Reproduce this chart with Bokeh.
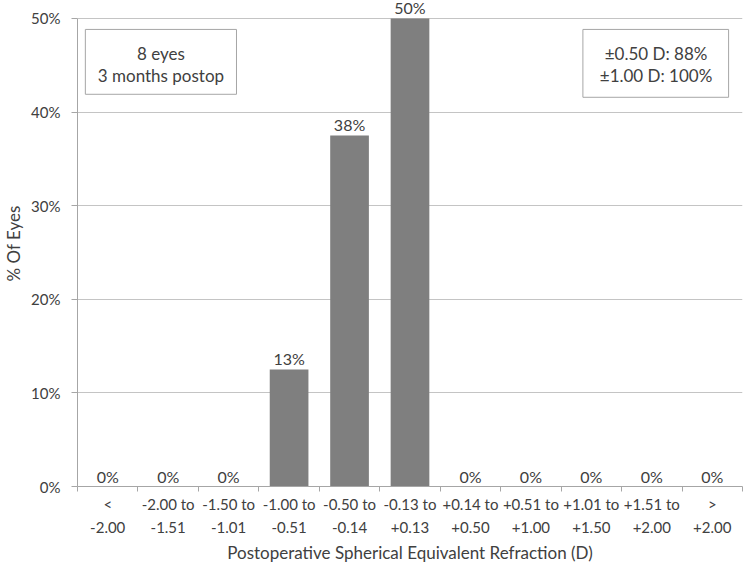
from bokeh.plotting import figure
from bokeh.models import (Range1d, LinearAxis, FixedTicker,
                          ColumnDataSource, Label, PrintfTickFormatter)
from bokeh.embed import file_html
from bokeh.resources import INLINE

# ---- data ----
categories = ["<\n-2.00", "-2.00 to\n-1.51", "-1.50 to\n-1.01", "-1.00 to\n-0.51",
              "-0.50 to\n-0.14", "-0.13 to\n+0.13", "+0.14 to\n+0.50", "+0.51 to\n+1.00",
              "+1.01 to\n+1.50", "+1.51 to\n+2.00", ">\n+2.00"]
percent_eyes = [0, 0, 0, 12.5, 37.5, 50, 0, 0, 0, 0, 0]
value_labels = ["0%", "0%", "0%", "13%", "38%", "50%", "0%", "0%", "0%", "0%", "0%"]
y_ticks = [0, 10, 20, 30, 40, 50]
box_left_text = ["8 eyes", "3 months postop"]
box_right_text = ["\u00b10.50 D: 88%", "\u00b11.00 D: 100%"]

FONT = "Lato"
TXT = "#404040"
AX = "#a6a6a6"
HEADROOM = 1.92  # space above the 50% gridline for the bar label

n = len(categories)
centers = [i + 0.5 for i in range(n)]
boundaries = list(range(n + 1))
src = ColumnDataSource(dict(x=centers, val=percent_eyes, lab=value_labels))

p = figure(width=743, height=565,
           x_range=Range1d(0, n), y_range=Range1d(0, y_ticks[-1] + HEADROOM),
           x_axis_location=None, output_backend="svg", toolbar_location=None,
           min_border_left=74, min_border_right=1, min_border_top=0, min_border_bottom=60)
p.outline_line_color = None

# y axis
yax = p.yaxis[0]
yax.bounds = (y_ticks[0], y_ticks[-1])
yax.ticker = FixedTicker(ticks=y_ticks)
yax.formatter = PrintfTickFormatter(format="%d%%")
yax.minor_tick_line_color = None
yax.major_tick_in = 0
yax.major_tick_out = 6
yax.axis_line_color = AX
yax.major_tick_line_color = AX
yax.major_label_text_font = FONT
yax.major_label_text_font_size = "15px"
yax.major_label_text_color = TXT
yax.major_label_standoff = 11
yax.axis_label = "% Of Eyes"
yax.axis_label_text_font = FONT
yax.axis_label_text_font_size = "17px"
yax.axis_label_text_font_style = "normal"
yax.axis_label_text_color = TXT
yax.axis_label_standoff = 4

p.xgrid.grid_line_color = None
p.ygrid.grid_line_color = "#c4c4c4"
p.ygrid.ticker = FixedTicker(ticks=y_ticks)

# x axis: labels at category centres, tick marks (minor) at category boundaries
xax = LinearAxis(ticker=FixedTicker(ticks=centers, minor_ticks=boundaries),
                 major_label_overrides={c: lab for c, lab in zip(centers, categories)},
                 axis_line_color=AX, major_tick_line_color=None,
                 minor_tick_line_color=AX, minor_tick_in=0, minor_tick_out=5,
                 major_tick_in=0, major_tick_out=5,
                 major_label_text_font=FONT, major_label_text_font_size="15px",
                 major_label_text_color=TXT, major_label_standoff=3,
                 major_label_text_line_height=1.3,
                 axis_label="Postoperative Spherical Equivalent Refraction (D)",
                 axis_label_text_font=FONT, axis_label_text_font_size="17px",
                 axis_label_text_font_style="normal", axis_label_text_color=TXT,
                 axis_label_standoff=3)
p.add_layout(xax, "below")

# bars
p.vbar(x="x", top="val", width=0.64, source=src, fill_color="#7f7f7f", line_color=None)

# value labels
for xc, v, lab in zip(centers, percent_eyes, value_labels):
    p.add_layout(Label(x=xc, y=v, text=lab, text_align="center", text_baseline="bottom",
                       y_offset=1, text_font=FONT, text_font_size="16px", text_color=TXT))

# info boxes
p.quad(left=[0.13], right=[2.63], bottom=[41.9], top=[48.83],
       fill_color="white", line_color=AX, line_width=1)
p.quad(left=[8.36], right=[10.77], bottom=[41.58], top=[48.83],
       fill_color="white", line_color=AX, line_width=1)

for cx, lines in [(1.38, box_left_text), (9.57, box_right_text)]:
    for yy, t in zip([46.27, 43.92], lines):
        p.add_layout(Label(x=cx, y=yy, text=t, text_align="center",
                           text_baseline="middle", text_font=FONT, text_font_size="17px",
                           text_color=TXT))

open("out.html", "w").write(file_html(p, INLINE))
